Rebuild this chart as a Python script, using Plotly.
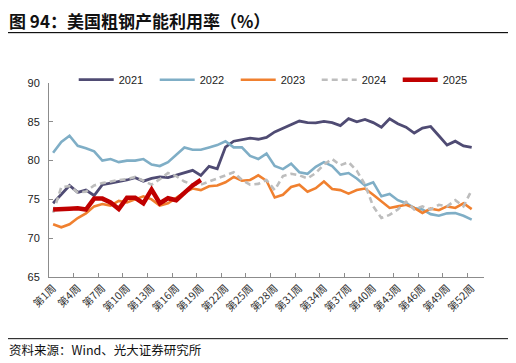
import plotly.graph_objects as go

weeks = list(range(1, 53))
tick_labels = [f"第{w}周" for w in range(1, 53, 3)]

y2021 = [74.5, 75.6, 76.8, 75.9, 76.2, 75.5, 76.9, 77.1, 77.3, 77.5, 77.8, 77.35, 77.7, 77.9, 77.8, 78.1,
         78.5, 78.75, 78.1, 79.25, 78.95, 81.75, 82.5, 82.7, 82.9, 82.75, 83.0, 83.7, 84.2, 84.6, 85.1, 84.9,
         84.85, 85.05, 84.9, 84.5, 85.4, 85.0, 85.3, 84.9, 84.3, 85.4, 84.75, 84.3, 83.55, 84.2, 84.4, 83.2,
         82.0, 82.5, 81.9, 81.7]
y2022 = [81.0, 82.4, 83.2, 81.9, 81.6, 81.2, 80.0, 80.2, 79.8, 80.0, 80.0, 80.2, 79.5, 79.3, 79.8, 80.8,
         81.7, 81.4, 81.4, 81.7, 82.0, 82.5, 81.7, 81.7, 80.6, 80.2, 80.9, 79.3, 78.9, 79.6, 78.5, 78.3,
         79.2, 79.8, 79.3, 78.2, 78.4, 77.7, 76.8, 77.2, 75.4, 75.7, 74.9, 74.5, 73.9, 73.7, 73.1, 72.9,
         73.2, 73.25, 72.9, 72.4]
y2023 = [71.8, 71.4, 71.8, 72.6, 73.2, 74.1, 74.4, 74.2, 74.8, 74.6, 75.0, 75.4, 75.0, 74.2, 74.5, 75.2,
         75.9, 76.4, 76.2, 76.7, 76.8, 77.2, 77.9, 77.4, 77.5, 78.1, 77.4, 75.25, 75.6, 76.6, 76.9, 76.0,
         76.45, 77.3, 76.35, 76.2, 75.75, 76.2, 76.4, 75.6, 74.75, 73.9, 74.1, 74.3, 73.9, 73.25, 73.8, 73.6,
         74.1, 73.9, 74.5, 73.75]
y2024 = [73.3, 76.6, 76.7, 75.9, 76.0, 76.8, 77.1, 77.3, 77.5, 77.6, 77.9, 77.4, 76.9, 77.6, 78.4, 78.0,
         77.3, 76.9, 76.9, 77.3, 77.7, 78.1, 78.5, 77.5, 76.9, 77.0, 77.5, 76.2, 78.0, 78.3, 78.1, 77.7,
         78.4, 79.5, 80.2, 79.4, 79.8, 78.7, 76.9, 74.1, 72.6, 73.0, 73.7, 74.7, 73.7, 74.1, 73.7, 74.3,
         74.1, 74.9, 74.1, 76.2]
y2025 = [73.7, 73.7, 73.8, 73.85, 73.7, 75.1, 75.1, 74.6, 73.75, 75.2, 75.2, 74.5, 76.25, 74.5, 75.15,
         74.9, 75.9, 76.8, 77.5]

series = [
    ("2021", y2021, "#4F4B73", 2.8, "solid"),
    ("2022", y2022, "#7FAEC6", 2.6, "solid"),
    ("2023", y2023, "#F0802F", 2.6, "solid"),
    ("2024", y2024, "#BDBDBD", 2.6, "dash"),
    ("2025", y2025, "#C00000", 4.5, "solid"),
]

# the page body adds an 8px offset; lay out in screen pixels and shift
OFF = 8
W, H = 516 - OFF, 363 - OFF
L, R, T, B = 49.3 - OFF, 484.0 - OFF, 83.3 - OFF, 277.3 - OFF


def px_x(px):
    return (px - OFF - L) / (R - L)


def px_y(py):
    return (B - (py - OFF)) / (B - T)


fig = go.Figure()
for name, ys, color, width, dash in series:
    fig.add_trace(go.Scatter(
        x=weeks[:len(ys)], y=ys, name=name, mode="lines",
        line=dict(color=color, width=width, dash=dash if dash == "solid" else "6px,4px"),
    ))

num_font = "Liberation Sans, Arial, Noto Sans CJK SC, sans-serif"
cjk_font = "Noto Sans CJK SC, Liberation Sans, sans-serif"


def rule_bar(x0, x1, y, color):
    # a 1px filled bar used as a horizontal rule
    return dict(text=" ", x=px_x(x0), y=px_y(y), xref="paper", yref="paper",
                xanchor="left", yanchor="middle", showarrow=False,
                width=x1 - x0, height=1, bgcolor=color, borderpad=0, borderwidth=0,
                font=dict(size=1))


fig.update_layout(
    width=W, height=H,
    margin=dict(l=L, r=W - R, t=T, b=H - B, pad=0, autoexpand=False),
    paper_bgcolor="white", plot_bgcolor="white",
    showlegend=True,
    legend=dict(
        orientation="h", x=px_x(74), y=px_y(80), xanchor="left", yanchor="middle",
        xref="paper", yref="paper",
        font=dict(family=num_font, size=11, color="#222"),
        itemwidth=35, entrywidth=31, entrywidthmode="pixels",
        bgcolor="rgba(0,0,0,0)", borderwidth=0, tracegroupgap=0,
    ),
    xaxis=dict(
        range=[0.5, 53.5], showgrid=False, zeroline=False, automargin=False,
        showline=True, linecolor="#8C8C8C", linewidth=1,
        tickmode="array", tickvals=[w - 0.5 for w in range(1, 53, 3)], ticktext=tick_labels,
        ticklabelshift=4, ticks="inside", ticklen=4, tickcolor="#8C8C8C", tickangle=-45,
        tickfont=dict(family=cjk_font, size=10.5, color="#333"),
    ),
    yaxis=dict(
        range=[65, 90], showgrid=False, zeroline=False, automargin=False,
        showline=True, linecolor="#8C8C8C", linewidth=1,
        tickmode="array", tickvals=[65, 70, 75, 80, 85, 90],
        ticks="inside", ticklen=4, tickcolor="#8C8C8C",
        tickfont=dict(family=num_font, size=11, color="#222"),
        ticklabelstandoff=6,
    ),
    annotations=[
        dict(text="<b>图 94：美国粗钢产能利用率（%）</b>", x=px_x(8), y=px_y(20.5),
             xref="paper", yref="paper", xanchor="left", yanchor="middle", showarrow=False,
             borderpad=0, font=dict(family=cjk_font, size=17, color="#111")),
        dict(text="资料来源：Wind、光大证券研究所", x=px_x(8), y=px_y(350),
             xref="paper", yref="paper", xanchor="left", yanchor="middle", showarrow=False,
             borderpad=0, font=dict(family=cjk_font, size=12.5, color="#111")),
        rule_bar(8, 510, 33, "#111"),
        rule_bar(8, 510, 339, "#333"),
    ],
    shapes=[
        dict(type="line", xref="paper", yref="paper", layer="above",
             x0=px_x(8), x1=px_x(510), y0=px_y(33), y1=px_y(33), line=dict(color="#111", width=1)),
        dict(type="line", xref="paper", yref="paper", layer="above",
             x0=px_x(8), x1=px_x(510), y0=px_y(339), y1=px_y(339), line=dict(color="#333", width=1)),
    ],
)

fig.write_html("out.html")
